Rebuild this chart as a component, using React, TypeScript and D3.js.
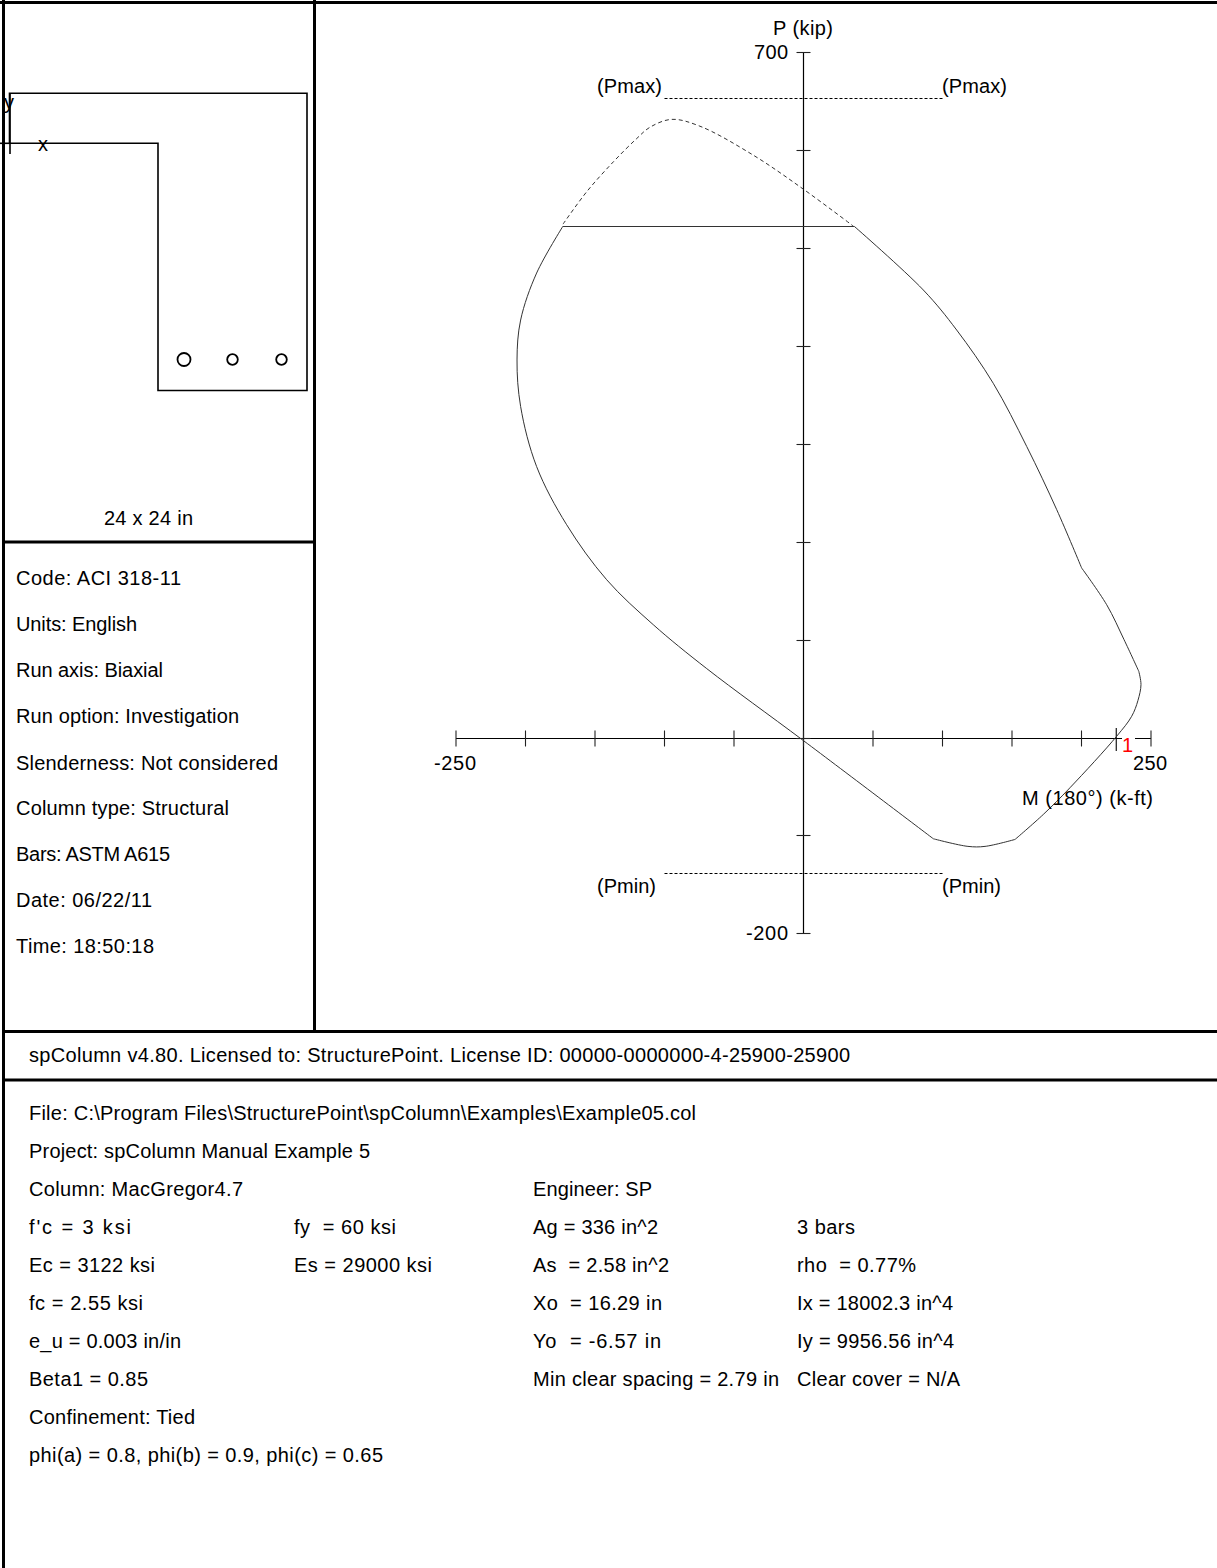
import React from "react";
import * as d3 from "d3";

// Interaction-diagram outline, split at the corners visible in the picture: [M (k-ft)], [P (kip)]
const outlineM = [
  [36.3,86.2,110.2,136.5,160.6,182.2,200.1],
  [200.1,218.1,230.6,241.2],
  [241.2,242.8,240.6,236.1,225.3,191.7,172.5,152.2],
  [152.2,130.6,118.3,93.4],
  [93.4,-0.1,-69.6,-108.1,-141.6,-170.4,-192,-203.5,-206.1,-203.5,-192,-173],
];
const outlineP = [
  [523,457.7,416.8,362.4,297.8,233.2,173.7],
  [173.7,136.2,100.5,68.2],
  [68.2,54.6,38.3,22.2,1.8,-50.8,-78.1,-103.6],
  [-103.6,-110.7,-110.7,-102.9],
  [-102.9,-2.6,70.9,115.8,161.7,217.9,277.3,338.6,386.2,427,475,523],
];
const dashM = [-173,-156,-136.8,-120,-110.4,-94.8,-74.5,-36.1,-0.1,35.8];
const dashP = [525,558,588.6,612.4,624,632,625,595.4,560.7,523];
const xTicks = [-250,-200,-150,-100,-50,0,50,100,150,200,250];
const yTicks = [700,600,500,400,300,200,100,0,-100,-200];
const cutP = 523, pMax = 653.6, pMin = -138.3, pLimitM = 100, refM = 225;
const barsX = [184, 232.5, 281.5];
const barsR = [6.5, 5.3, 5.3];
const section: [number, number][] = [[9.5,93.3],[307,93.3],[307,390.5],[158,390.5],[158,143.3],[9.5,143.3]];

const leftInfo = ["Code: ACI 318-11","Units: English","Run axis: Biaxial","Run option: Investigation","Slenderness: Not considered","Column type: Structural","Bars: ASTM A615","Date: 06/22/11","Time: 18:50:18"];
const leftEnd = [181,137,163,239,278,229,170,152,154];
const leftY = [578,624,670,716,763,808,854,900,946];
const col1 = ["File: C:\\Program Files\\StructurePoint\\spColumn\\Examples\\Example05.col","Project: spColumn Manual Example 5","Column: MacGregor4.7","f'c = 3 ksi","Ec = 3122 ksi","fc = 2.55 ksi","e_u = 0.003 in/in","Beta1 = 0.85","Confinement: Tied","phi(a) = 0.8, phi(b) = 0.9, phi(c) = 0.65"];
const col1End = [696,370,243,131,155,143,181,148,195,383];
const col2 = ["","","","fy  = 60 ksi","Es = 29000 ksi"];
const col2End = [0,0,0,396,432];
const col3 = ["","","Engineer: SP","Ag = 336 in^2","As  = 2.58 in^2","Xo  = 16.29 in","Yo  = -6.57 in","Min clear spacing = 2.79 in"];
const col3End = [0,0,652,658,669,662,661,779];
const col4 = ["","","","3 bars","rho  = 0.77%","Ix = 18002.3 in^4","Iy = 9956.56 in^4","Clear cover = N/A"];
const col4End = [0,0,0,855,916,953,954,960];
const rowY = [1113,1151,1189,1227,1265,1303,1341,1379,1417,1455];

const x = d3.scaleLinear().domain([-250,250]).range([456,1151]);
const y = d3.scaleLinear().domain([700,-200]).range([52.8,933.8]);
const yPx = (p:number) => Math.round(y(p)-0.5)+0.5;

function path(ms:number[],ps:number[]){
  return d3.line<number>().x(m=>x(m)).y((_,i)=>y(ps[i])).curve(d3.curveCatmullRom.alpha(0.5))(ms) as string;
}

function T({x:tx,end,y:ty,s,fill}:{x:number,end:number,y:number,s:string,fill?:string}){
  return <text x={tx} y={ty} textLength={end-tx} lengthAdjust="spacing" dominantBaseline="central" fill={fill||"#000"} style={{whiteSpace:"pre"}}>{s}</text>;
}

export default function App(){
  return (
    <svg width={1217} height={1568} style={{position:"absolute",left:0,top:0,background:"#fff"}} fontFamily="'Liberation Sans', Arial, sans-serif" fontSize={20}>
      <g stroke="#000" strokeWidth={3} fill="none">
        <line x1={0} y1={2.5} x2={1217} y2={2.5}/>
        <line x1={3.5} y1={0} x2={3.5} y2={1568}/>
        <line x1={314.5} y1={0} x2={314.5} y2={1031}/>
        <line x1={3} y1={542} x2={314} y2={542}/>
        <line x1={3} y1={1031.5} x2={1217} y2={1031.5}/>
        <line x1={3} y1={1080} x2={1217} y2={1080}/>
      </g>
      <polygon points={section.map(p=>p.join(",")).join(" ")} fill="none" stroke="#000" strokeWidth={1.6}/>
      <line x1={0} y1={143.3} x2={9} y2={143.3} stroke="#000" strokeWidth={1.6}/>
      <line x1={10} y1={93} x2={10} y2={154} stroke="#000" strokeWidth={1.6}/>
      {barsX.map((b,i)=><circle key={i} cx={b} cy={359.5} r={barsR[i]} fill="none" stroke="#000" strokeWidth={1.8}/>)}
      <T x={4} end={14} y={102} s="y"/>
      <T x={38} end={48} y={144} s="x"/>
      <T x={104} end={193} y={518} s="24 x 24 in"/>
      {leftInfo.map((s,i)=><T key={s} x={16} end={leftEnd[i]} y={leftY[i]} s={s}/>)}

      <line x1={x(-250)} y1={yPx(0)} x2={x(250)} y2={yPx(0)} stroke="#000" strokeWidth={1.2}/>
      <line x1={x(0)} y1={yPx(700)} x2={x(0)} y2={yPx(-200)} stroke="#000" strokeWidth={1.2}/>
      {xTicks.map(t=><line key={t} x1={x(t)} x2={x(t)} y1={yPx(0)-8} y2={yPx(0)+8} stroke="#222" strokeWidth={1.1}/>)}
      {yTicks.map(t=><line key={t} x1={x(0)-7} x2={x(0)+7} y1={yPx(t)} y2={yPx(t)} stroke="#222" strokeWidth={1.1}/>)}
      <line x1={x(refM)} x2={x(refM)} y1={728} y2={751} stroke="#000" strokeWidth={1.1}/>
      <rect x={1122} y={737} width={13} height={15} fill="#fff"/>
      {outlineM.map((ms,i)=><path key={i} d={path(ms,outlineP[i])} fill="none" stroke="#333" strokeWidth={1}/>)}
      <line x1={x(outlineM[4][11])} x2={x(outlineM[0][0])} y1={yPx(cutP)} y2={yPx(cutP)} stroke="#333" strokeWidth={1.2}/>
      <path d={path(dashM,dashP)} fill="none" stroke="#333" strokeWidth={1} strokeDasharray="4 3"/>
      <line x1={x(-pLimitM)} x2={x(pLimitM)} y1={yPx(pMax)} y2={yPx(pMax)} stroke="#000" strokeWidth={1} strokeDasharray="3 2"/>
      <line x1={x(-pLimitM)} x2={x(pLimitM)} y1={yPx(pMin)} y2={yPx(pMin)} stroke="#000" strokeWidth={1} strokeDasharray="3 2"/>
      <T x={773} end={833} y={28} s="P (kip)"/>
      <T x={754} end={788} y={52} s="700"/>
      <T x={746} end={788} y={933} s="-200"/>
      <T x={434} end={476} y={763} s="-250"/>
      <T x={1133} end={1167} y={763} s="250"/>
      <T x={1022} end={1153} y={798} s="M (180°) (k-ft)"/>
      <T x={597} end={662} y={86} s="(Pmax)"/>
      <T x={942} end={1007} y={86} s="(Pmax)"/>
      <T x={597} end={656} y={886} s="(Pmin)"/>
      <T x={942} end={1001} y={886} s="(Pmin)"/>
      <T x={1122} end={1133} y={745} s="1" fill="#f00"/>

      <T x={29} end={850} y={1055} s="spColumn v4.80. Licensed to: StructurePoint. License ID: 00000-0000000-4-25900-25900"/>
      {col1.map((s,i)=><T key={i} x={29} end={col1End[i]} y={rowY[i]} s={s}/>)}
      {col2.map((s,i)=>s?<T key={i} x={294} end={col2End[i]} y={rowY[i]} s={s}/>:null)}
      {col3.map((s,i)=>s?<T key={i} x={533} end={col3End[i]} y={rowY[i]} s={s}/>:null)}
      {col4.map((s,i)=>s?<T key={i} x={797} end={col4End[i]} y={rowY[i]} s={s}/>:null)}
    </svg>
  );
}
